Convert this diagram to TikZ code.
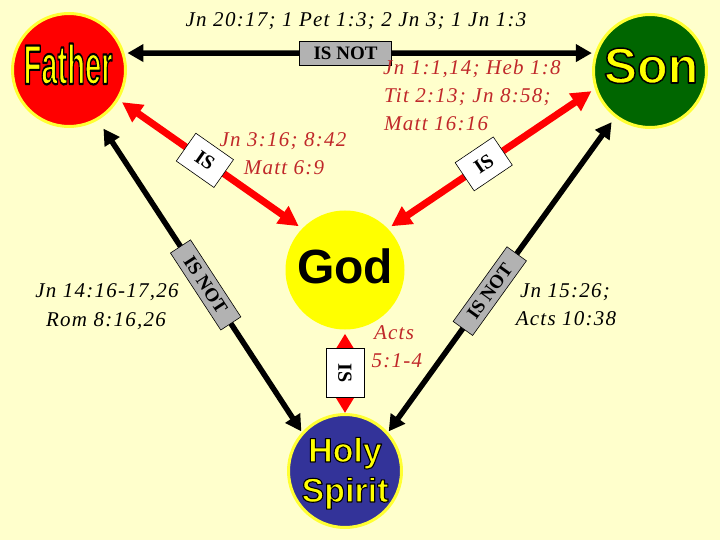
\documentclass[tikz,border=0pt]{standalone}
\usepackage{fontspec}
\usepackage{graphicx}
\setmainfont{Liberation Serif}
\newfontfamily\reffont[LetterSpace=6]{Liberation Serif}
\newfontfamily\labfont{Liberation Sans}
\usetikzlibrary{arrows.meta}
\definecolor{bg}{HTML}{FFFFCC}
\definecolor{ylw}{HTML}{FFFF00}
\definecolor{ring}{HTML}{FFFF33}
\definecolor{fred}{HTML}{FF0000}
\definecolor{sgreen}{HTML}{006600}
\definecolor{hsblue}{HTML}{333399}
\definecolor{boxgray}{HTML}{B2B2B2}
\definecolor{refred}{HTML}{C0282A}
\definecolor{arrred}{HTML}{FF0000}
% yellow text with a black outline (PDF text render mode 2 = fill + stroke)
\newcommand\outl[2]{\special{pdf:code q}{\color{ylw}\special{pdf:code 2 Tr #1 w 0 0 0 RG 1 j}#2\special{pdf:code 0 Tr}}\special{pdf:code Q}}
\begin{document}
\begin{tikzpicture}[x=1pt,y=-1pt,
  circ/.style={circle,minimum size=113pt,inner sep=0pt,draw=ring,line width=3pt},
  blkarr/.style={line width=5.5pt,draw=black,{Triangle[length=16pt,width=17pt]}-{Triangle[length=16pt,width=17pt]}},
  redarr/.style={line width=7pt,draw=arrred,{Triangle[length=20pt,width=20pt]}-{Triangle[length=20pt,width=20pt]}},
  isbox/.style={draw=black,fill=white,line width=0.6pt,font=\bfseries\fontsize{20}{20}\selectfont,minimum width=46pt,minimum height=34pt,inner sep=0pt},
  notbox/.style={draw=black,fill=boxgray,line width=0.6pt,font=\bfseries\fontsize{19}{19}\selectfont,minimum width=92pt,minimum height=24pt,inner sep=0pt},
  ref/.style={font=\reffont\itshape\fontsize{21}{28}\selectfont,anchor=base,inner sep=0pt},
  lab/.style={anchor=base,inner sep=0pt}
]
\useasboundingbox (0,0) rectangle (720,540);
\fill[bg] (0,0) rectangle (720,540);

% circles
\node[circ,fill=fred] (father) at (69,70) {};
\node[circ,fill=sgreen] (son) at (650,71) {};
\node[circle,minimum size=119pt,inner sep=0pt,fill=ylw] (god) at (345,270) {};
\node[circ,fill=hsblue] (hs) at (345,471) {};

% connectors
\draw[blkarr,shorten <=3pt,shorten >=3pt] (father.17) -- (son.162)
  node[notbox,pos=0.47] (n1) {IS NOT};
\draw[redarr,shorten <=4pt,shorten >=4pt] (father.-31) -- (god.136)
  node[isbox,sloped,pos=0.47] (i1) {IS};
\draw[redarr,shorten <=4pt,shorten >=4pt] (god.44) -- (son.-162)
  node[isbox,sloped,pos=0.463] (i2) {IS};
\draw[blkarr,shorten <=10pt,shorten >=1pt] (father.-60) -- (hs.138)
  node[notbox,sloped,pos=0.528] (n2) {IS NOT};
\draw[blkarr,shorten <=1pt,shorten >=6pt] (hs.42) -- (son.-127)
  node[notbox,sloped,pos=0.448] (n3) {IS NOT};
\draw[line width=7pt,draw=arrred,{Triangle[length=16pt,width=18pt]}-{Triangle[length=16pt,width=18pt]},shorten <=4pt,shorten >=0pt] (god.south) -- (hs.north)
  node[isbox,rotate=-90,pos=0.52,minimum width=49pt,minimum height=38pt] (i3) {IS};

% references
\node[ref] (t1) at (356,27) {Jn 20:17; 1 Pet 1:3; 2 Jn 3; 1 Jn 1:3};
\node[ref,text=refred] (r1a) at (283,147) {Jn 3:16; 8:42};
\node[ref,text=refred] (r1b) at (284,175) {Matt 6:9};
\node[ref,text=refred,anchor=base west] (r2a) at (383,75) {Jn 1:1,14; Heb 1:8};
\node[ref,text=refred,anchor=base west] (r2b) at (384,103) {Tit 2:13; Jn 8:58;};
\node[ref,text=refred,anchor=base west] (r2c) at (384,131) {Matt 16:16};
\node[ref,text=refred] (r3a) at (394,339) {Acts};
\node[ref,text=refred] (r3b) at (397,367) {5:1-4};
\node[ref] (b1a) at (107,297) {Jn 14:16-17,26};
\node[ref] (b1b) at (106,326) {Rom 8:16,26};
\node[ref] (b2a) at (565,297) {Jn 15:26;};
\node[ref] (b2b) at (566,325) {Acts 10:38};

% circle labels
\node[lab,font=\labfont\bfseries\fontsize{56}{56}\selectfont] (fl) at (68,84) {\scalebox{0.52}[1]{\outl{2.2}{Father}}};
\node[lab,font=\labfont\bfseries\fontsize{50}{50}\selectfont] (sl) at (651,83) {\outl{1.5}{Son}};
\node[lab,font=\labfont\bfseries\fontsize{48}{48}\selectfont] (gl) at (345,283) {God};
\node[lab,font=\labfont\bfseries\fontsize{34}{34}\selectfont] (hl1) at (345,462) {\outl{1.1}{Holy}};
\node[lab,font=\labfont\bfseries\fontsize{34}{34}\selectfont] (hl2) at (345,502) {\outl{1.1}{Spirit}};
\end{tikzpicture}
\end{document}
